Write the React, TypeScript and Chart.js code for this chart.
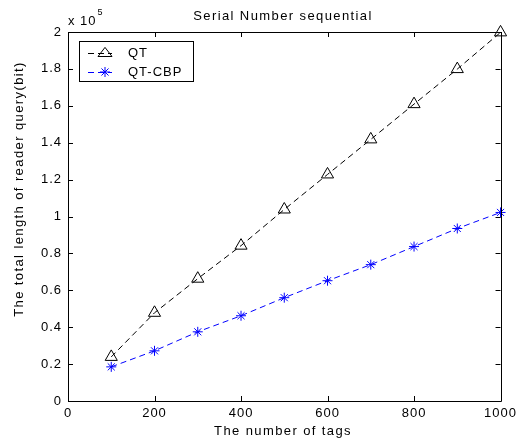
import React, { useEffect, useRef } from "react";
import { Chart, registerables } from "chart.js";

Chart.register(...registerables);

const tags = [100, 200, 300, 400, 500, 600, 700, 800, 900, 1000];
const qt = [23900, 47800, 66300, 84200, 103800, 122800, 141800, 160900, 179900, 199800];
const qtcbp = [18500, 27200, 37500, 46200, 56000, 65200, 73900, 83700, 93500, 102200];
const xTicks = [0, 200, 400, 600, 800, 1000];
const yTicks = [0, 20000, 40000, 60000, 80000, 100000, 120000, 140000, 160000, 180000, 200000];
const titleText = "Serial Number sequential";
const xTitle = "The number of tags";
const yTitle = "The total length of reader query(bit)";
const seriesNames = ["QT", "QT-CBP"];

const FONT = "'Liberation Sans', Arial, sans-serif";
const FS = 13;

const decor = {
  id: "decor",
  beforeDraw(chart: any) {
    chart.ctx.letterSpacing = "1px";
  },
  afterDraw(chart: any) {
    const ctx = chart.ctx;
    const { left, right, top, bottom } = chart.chartArea;
    const xs = chart.scales.x;
    const ys = chart.scales.y;
    ctx.save();
    ctx.strokeStyle = "#000";
    ctx.lineWidth = 1;
    ctx.setLineDash([]);
    ctx.beginPath();
    ctx.rect(Math.round(left) + 0.5, Math.round(top) + 0.5, Math.round(right - left), Math.round(bottom - top));
    ctx.stroke();
    const tl = 5;
    ctx.beginPath();
    for (const v of xTicks) {
      const px = Math.round(xs.getPixelForValue(v)) + 0.5;
      ctx.moveTo(px, bottom);
      ctx.lineTo(px, bottom - tl);
      ctx.moveTo(px, top);
      ctx.lineTo(px, top + tl);
    }
    for (const v of yTicks) {
      const py = Math.round(ys.getPixelForValue(v)) + 0.5;
      ctx.moveTo(left, py);
      ctx.lineTo(left + tl, py);
      ctx.moveTo(right, py);
      ctx.lineTo(right - tl, py);
    }
    ctx.stroke();

    ctx.fillStyle = "#000";
    ctx.letterSpacing = "1.4px";
    ctx.font = FS + "px " + FONT;
    ctx.textAlign = "center";
    ctx.textBaseline = "middle";
    const cx = 283;
    ctx.fillText(titleText, cx, 16);
    ctx.fillText(xTitle, cx, 431);
    ctx.save();
    ctx.translate(19, 189);
    ctx.rotate(-Math.PI / 2);
    ctx.fillText(yTitle, 0, 0);
    ctx.restore();

    // exponent label
    ctx.letterSpacing = "1px";
    ctx.textAlign = "left";
    ctx.font = FS + "px " + FONT;
    ctx.fillText("x 10", left, 21);
    const w = ctx.measureText("x 10").width;
    ctx.font = "9px " + FONT;
    ctx.fillText("5", left + w + 1, 13);

    // legend
    const lx = 79, ly = 41, lw = 114, lh = 40;
    ctx.fillStyle = "#fff";
    ctx.fillRect(lx, ly, lw, lh);
    ctx.strokeStyle = "#000";
    ctx.strokeRect(lx + 0.5, ly + 0.5, lw, lh);
    const rows = [
      { y: 53, color: "#000", style: "triangle", r: 7 },
      { y: 72, color: "#0000ff", style: "star", r: 5 },
    ];
    rows.forEach((row, i) => {
      ctx.strokeStyle = row.color;
      ctx.lineWidth = 1;
      ctx.setLineDash([6, 4]);
      ctx.beginPath();
      ctx.moveTo(88, row.y + 0.5);
      ctx.lineTo(112, row.y + 0.5);
      ctx.stroke();
      ctx.setLineDash([]);
      drawMarker(ctx, row.style, row.r, 105, row.y, row.color);
      ctx.fillStyle = "#000";
      ctx.font = FS + "px " + FONT;
      ctx.textAlign = "left";
      ctx.textBaseline = "middle";
      ctx.fillText(seriesNames[i], 128, row.y);
    });
    ctx.restore();
  },
};

function drawMarker(ctx: any, style: string, r: number, x: number, y: number, color: string) {
  ctx.save();
  ctx.strokeStyle = color;
  ctx.lineWidth = 1;
  ctx.beginPath();
  if (style === "triangle") {
    ctx.moveTo(x, y - r * 0.8);
    ctx.lineTo(x + r, y + r * 0.5);
    ctx.lineTo(x - r, y + r * 0.5);
    ctx.closePath();
  } else {
    for (let k = 0; k < 4; k++) {
      const a = (k * Math.PI) / 4;
      ctx.moveTo(x + r * Math.cos(a), y + r * Math.sin(a));
      ctx.lineTo(x - r * Math.cos(a), y - r * Math.sin(a));
    }
  }
  ctx.stroke();
  ctx.restore();
}

export default function App() {
  const ref = useRef<HTMLCanvasElement>(null);
  useEffect(() => {
    if (!ref.current) return;
    const chart = new Chart(ref.current, {
      type: "line",
      data: {
        datasets: [
          {
            label: seriesNames[0],
            data: tags.map((t, i) => ({ x: t, y: qt[i] })),
            borderColor: "#000",
            backgroundColor: "transparent",
            borderWidth: 1,
            borderDash: [6, 4],
            pointStyle: "triangle",
            pointRadius: 7,
            pointBorderColor: "#000",
            pointBackgroundColor: "transparent",
            pointBorderWidth: 1,
            tension: 0,
            clip: false,
          },
          {
            label: seriesNames[1],
            data: tags.map((t, i) => ({ x: t, y: qtcbp[i] })),
            borderColor: "#0000ff",
            backgroundColor: "transparent",
            borderWidth: 1,
            borderDash: [6, 4],
            pointStyle: "star",
            pointRadius: 5,
            pointBorderColor: "#0000ff",
            pointBackgroundColor: "transparent",
            pointBorderWidth: 1,
            tension: 0,
            clip: false,
          },
        ],
      },
      options: {
        animation: false,
        responsive: false,
        maintainAspectRatio: false,
        layout: { padding: { top: 32, right: 18, left: 0, bottom: 0 } },
        plugins: { legend: { display: false }, tooltip: { enabled: false }, title: { display: false } },
        scales: {
          x: {
            type: "linear",
            min: 0,
            max: 1000,
            afterFit: (s: any) => { s.height = 41; },
            afterBuildTicks: (s: any) => { s.ticks = xTicks.map((v) => ({ value: v })); },
            grid: { display: false, drawTicks: false },
            border: { display: false },
            ticks: {
              color: "#000",
              font: { family: FONT, size: FS },
              padding: 5,
              maxRotation: 0,
              autoSkip: false,
              callback: (v: any) => String(v),
            },
          },
          y: {
            type: "linear",
            min: 0,
            max: 200000,
            afterFit: (s: any) => { s.width = 68; },
            afterBuildTicks: (s: any) => { s.ticks = yTicks.map((v) => ({ value: v })); },
            grid: { display: false, drawTicks: false },
            border: { display: false },
            ticks: {
              color: "#000",
              font: { family: FONT, size: FS },
              padding: 6,
              autoSkip: false,
              callback: (v: any) => String(Number((Number(v) / 1e5).toFixed(1))),
            },
          },
        },
      },
      plugins: [decor],
    } as any);
    return () => chart.destroy();
  }, []);
  return (
    <div style={{ position: "absolute", left: 0, top: 0, width: 520, height: 442, background: "#fff" }}>
      <canvas ref={ref} width={520} height={442} style={{ width: 520, height: 442 }} />
    </div>
  );
}
